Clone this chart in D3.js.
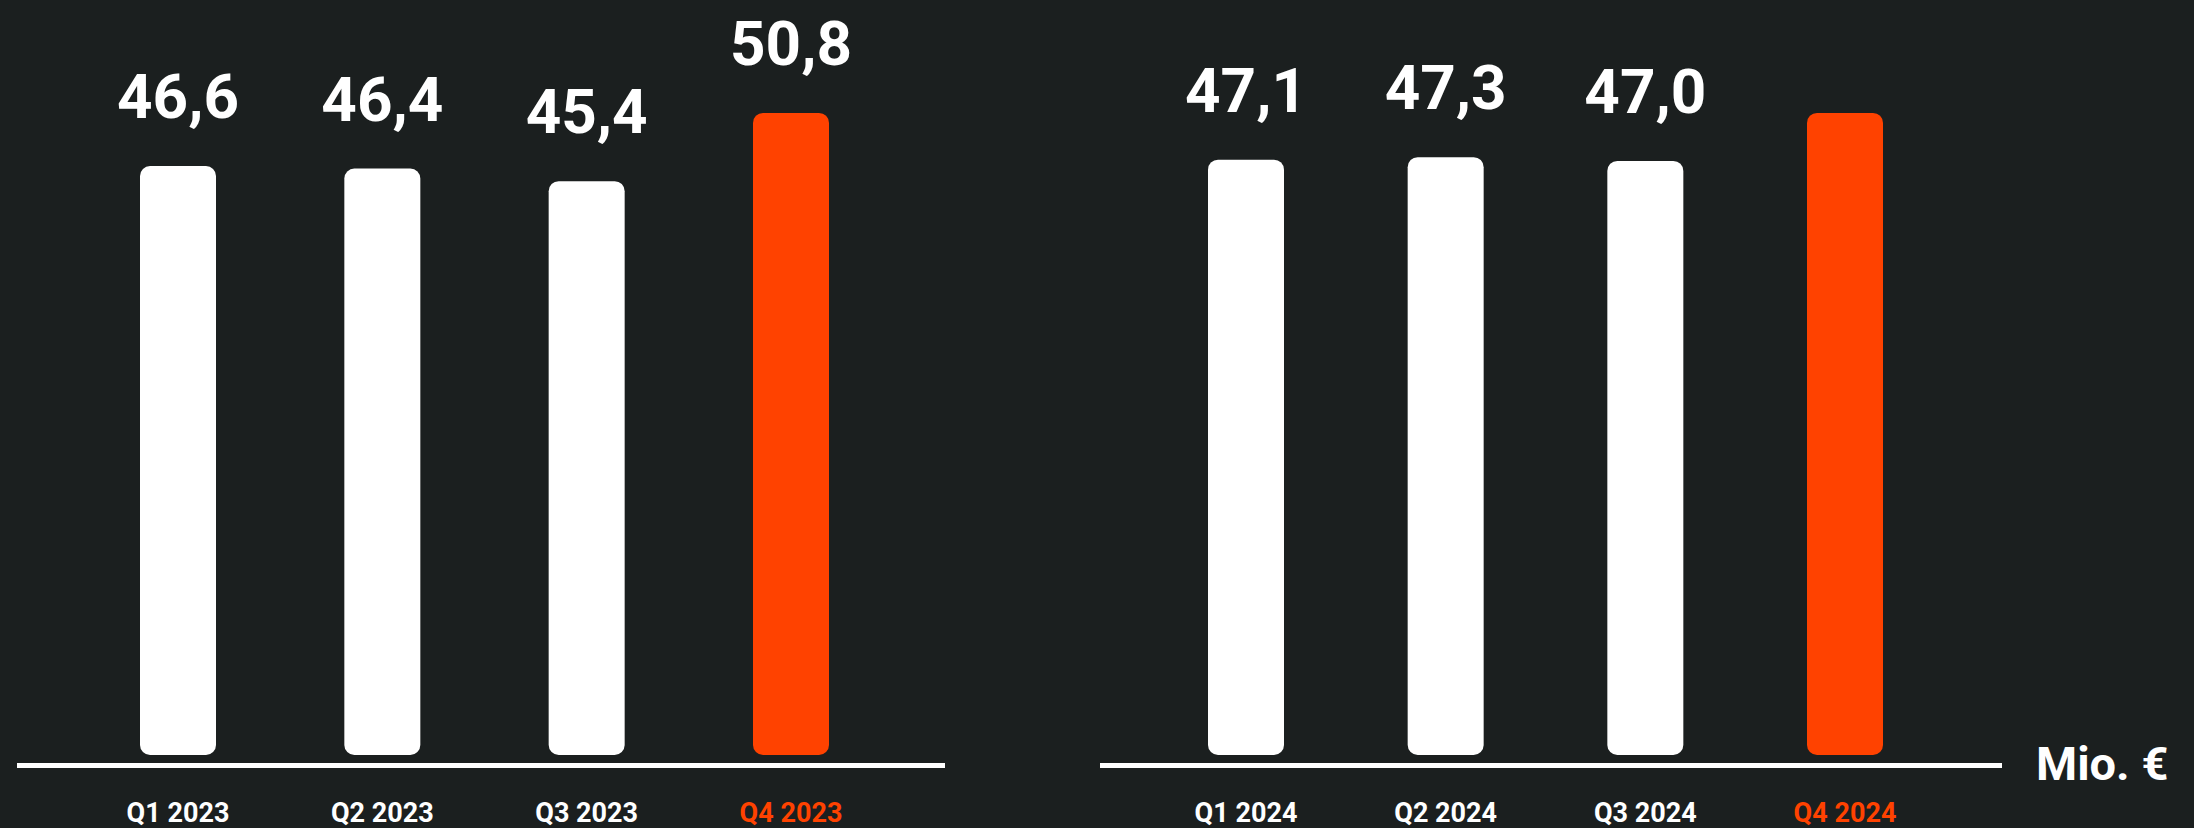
<!DOCTYPE html>
<html>
<head>
<meta charset="utf-8">
<script src="https://cdn.jsdelivr.net/npm/d3@7"></script>
<style>
  html, body { margin: 0; padding: 0; background: #1b1f1f; }
  svg { display: block; }
</style>
</head>
<body>
<div id="chart"></div>
<script>
const quarters2023 = ["Q1 2023", "Q2 2023", "Q3 2023", "Q4 2023"];
const values2023 = [46.6, 46.4, 45.4, 50.8];
const showLabel2023 = [true, true, true, true];

const quarters2024 = ["Q1 2024", "Q2 2024", "Q3 2024", "Q4 2024"];
const values2024 = [47.1, 47.3, 47.0, 50.8];
const showLabel2024 = [true, true, true, false];

const unitLabel = "Mio. €";

const width = 2194, height = 828;
const white = "#ffffff", orange = "#ff4200", bg = "#1b1f1f";
const fmt = v => d3.format(".1f")(v).replace(".", ",");

const svg = d3.select("#chart").append("svg")
    .attr("width", width)
    .attr("height", height)
    .attr("font-family", "Roboto, sans-serif")
    .attr("font-weight", 700);

svg.append("rect").attr("width", width).attr("height", height).attr("fill", bg);

const y = d3.scaleLinear().domain([0, 50]).range([755, 123]);

const panels = [
  {cats: quarters2023, vals: values2023, show: showLabel2023, range: [178, 791], axis: [17, 945]},
  {cats: quarters2024, vals: values2024, show: showLabel2024, range: [1246, 1845], axis: [1100, 2002]}
];

const barW = 76;

panels.forEach(p => {
  const x = d3.scalePoint().domain(p.cats).range(p.range);
  const data = p.cats.map((c, i) => ({cat: c, value: p.vals[i], show: p.show[i], last: i === p.cats.length - 1}));
  const g = svg.append("g");

  // baseline
  g.append("line")
      .attr("x1", p.axis[0]).attr("x2", p.axis[1])
      .attr("y1", 765.5).attr("y2", 765.5)
      .attr("stroke", white)
      .attr("stroke-width", 5);

  g.selectAll("rect.bar")
    .data(data)
    .join("rect")
      .attr("class", "bar")
      .attr("x", d => x(d.cat) - barW / 2)
      .attr("width", barW)
      .attr("y", d => y(d.value))
      .attr("height", d => y(0) - y(d.value))
      .attr("rx", 10)
      .attr("fill", d => d.last ? orange : white);

  g.selectAll("text.val")
    .data(data.filter(d => d.show))
    .join("text")
      .attr("class", "val")
      .attr("x", d => x(d.cat))
      .attr("y", d => y(d.value) - 48)
      .attr("text-anchor", "middle")
      .attr("font-size", 62)
      .attr("fill", white)
      .text(d => fmt(d.value));

  g.selectAll("text.cat")
    .data(data)
    .join("text")
      .attr("class", "cat")
      .attr("x", d => x(d.cat))
      .attr("y", 822)
      .attr("text-anchor", "middle")
      .attr("font-size", 27)
      .attr("fill", d => d.last ? orange : white)
      .text(d => d.cat);
});

svg.append("text")
    .attr("x", 2036)
    .attr("y", 780)
    .attr("font-size", 47)
    .attr("fill", white)
    .text(unitLabel);
</script>
</body>
</html>
